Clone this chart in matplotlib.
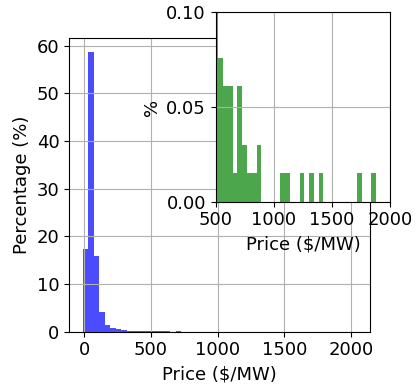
import numpy as np
import matplotlib
matplotlib.use('Agg')
import matplotlib.pyplot as plt

plt.rcParams['font.size'] = 13

# histogram bins ($/MW)
bin_start = -10
bin_width = 41
n_bins = 50

# percentage of hours per bin
pct = [17.3, 58.7, 15.8, 4.2, 1.4, 0.85, 0.5, 0.3, 0.2, 0.18,
       0.15, 0.13, 0.12, 0.076, 0.061, 0.061, 0.015, 0.061, 0.030, 0.015,
       0.015, 0.030, 0, 0, 0, 0, 0.015, 0.015, 0, 0,
       0.015, 0, 0.015, 0, 0.015, 0, 0, 0, 0, 0,
       0, 0, 0.015, 0, 0, 0.015, 0, 0, 0, 0.015]

edges = bin_start + bin_width * np.arange(n_bins + 1)
centers = (edges[:-1] + edges[1:]) / 2

fig = plt.figure(figsize=(4.16, 3.88), dpi=100)

# main histogram
ax = fig.add_axes([0.1666, 0.145, 0.7224, 0.757])
ax.hist(centers, bins=edges, weights=pct, color='blue', alpha=0.7)
ax.set_xlabel('Price ($/MW)')
ax.set_ylabel('Percentage (%)')
ax.set_xticks([0, 500, 1000, 1500, 2000])
ax.grid(True)

# zoomed inset on the tail
axin = fig.add_axes([0.5185, 0.480, 0.4197, 0.488])
axin.hist(centers, bins=edges, weights=pct, color='green', alpha=0.7)
axin.set_xlim(500, 2000)
axin.set_ylim(0, 0.1)
axin.set_xticks([500, 1000, 1500, 2000])
axin.set_yticks([0.0, 0.05, 0.1])
axin.set_xlabel('Price ($/MW)')
axin.set_ylabel('%')
axin.grid(True)

fig.savefig('out.png', dpi=100)
